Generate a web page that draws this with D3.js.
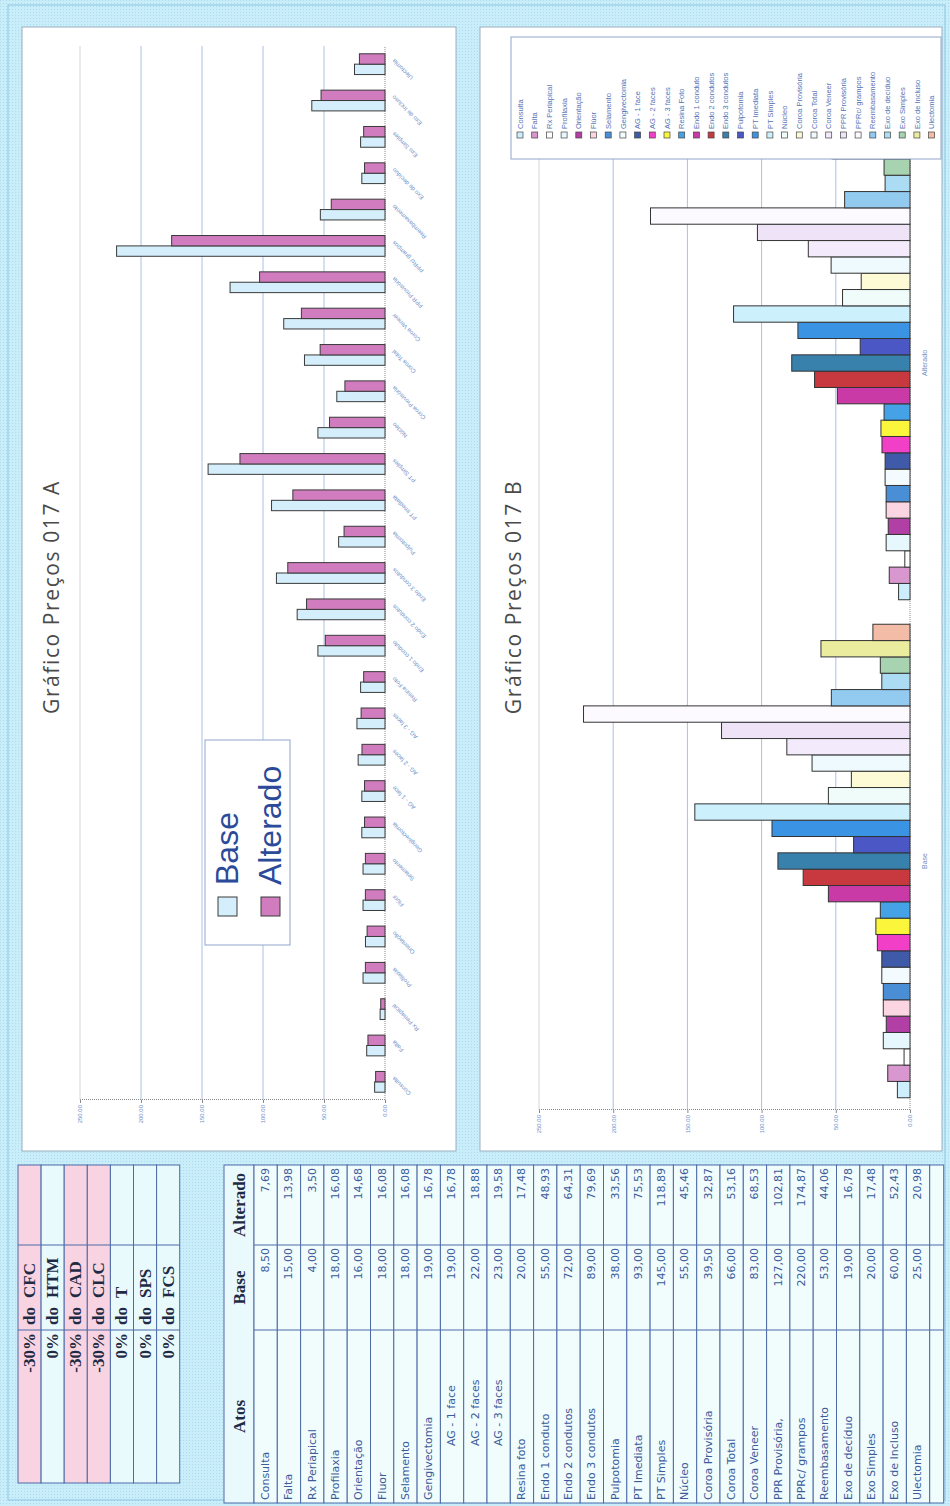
<!DOCTYPE html>
<html>
<head>
<meta charset="utf-8">
<script src="https://d3js.org/d3.v7.min.js"></script>
<style>
  body { margin: 0; background: #c9eefa; }
  svg { display: block; }
  .tbl-text { font-family: "DejaVu Sans", sans-serif; font-size: 11px; fill: #3b5b9b; }
  .tbl-head { font-family: "Liberation Serif", serif; font-weight: bold; font-size: 17px; fill: #1f2a44; }
  .axis-lbl { font-family: "Liberation Sans", sans-serif; font-size: 6px; fill: #6f8fc8; }
  .title { font-family: "Open Sans", sans-serif; font-size: 21px; fill: #4a4a4a; letter-spacing: 1.6px; }
</style>
</head>
<body>
<script>
// ---- data ----
var acts = ["Consulta", "Falta", "Rx Periapical", "Profilaxia", "Orientação", "Flúor", "Selamento",
  "Gengivectomia", "AG - 1 face", "AG - 2 faces", "AG - 3 faces", "Resina Foto", "Endo 1 conduto",
  "Endo 2 condutos", "Endo 3 condutos", "Pulpotomia", "PT Imediata", "PT Simples", "Núcleo",
  "Coroa Provisória", "Coroa Total", "Coroa Veneer", "PPR Provisória", "PPRc/ grampos",
  "Reembasamento", "Exo de decíduo", "Exo Simples", "Exo de Incluso", "Ulectomia"];
var tableActs = ["Consulta", "Falta", "Rx Periapical", "Profilaxia", "Orientação", "Fluor", "Selamento",
  "Gengivectomia", "AG - 1 face", "AG - 2 faces", "AG - 3 faces", "Resina foto", "Endo 1 conduto",
  "Endo 2 condutos", "Endo 3 condutos", "Pulpotomia", "PT Imediata", "PT Simples", "Núcleo",
  "Coroa Provisória", "Coroa Total", "Coroa Veneer", "PPR Provisória,", "PPRc/ grampos",
  "Reembasamento", "Exo de decíduo", "Exo Simples", "Exo de Incluso", "Ulectomia"];
var baseVals = [8.50, 15.00, 4.00, 18.00, 16.00, 18.00, 18.00, 19.00, 19.00, 22.00, 23.00, 20.00, 55.00,
  72.00, 89.00, 38.00, 93.00, 145.00, 55.00, 39.50, 66.00, 83.00, 127.00, 220.00, 53.00, 19.00, 20.00, 60.00, 25.00];
var altVals = [7.69, 13.98, 3.50, 16.08, 14.68, 16.08, 16.08, 16.78, 16.78, 18.88, 19.58, 17.48, 48.93,
  64.31, 79.69, 33.56, 75.53, 118.89, 45.46, 32.87, 53.16, 68.53, 102.81, 174.87, 44.06, 16.78, 17.48, 52.43, 20.98];
var actColors = ["#cdeefc", "#d898cf", "#ffffff", "#e6f7fd", "#b23fa6", "#fcd5e2", "#4a8fd6",
  "#f3fbff", "#3e5aa8", "#f23fc8", "#fbf53c", "#45a2e6", "#c93aa6", "#c8383f", "#3881ad",
  "#4a57c4", "#3a93e3", "#cdf0fd", "#f0fcfa", "#fdfbd6", "#eefafd", "#f3eafb", "#efe3f7",
  "#fdfaff", "#93caf0", "#abdcf4", "#a8d3b0", "#ecec9e", "#f2bca6"];
var seriesNames = ["Base", "Alterado"];
var seriesColors = ["#d4effb", "#d07cbf"];
var condPct = ["-30%", "0%", "-30%", "-30%", "0%", "0%", "0%"];
var condNames = ["CFC", "HTM", "CAD", "CLC", "T", "SPS", "FCS"];
var valueTicks = [0, 50, 100, 150, 200, 250];

var pageW = 950, pageH = 1506;
var fmt2 = d3.format(".2f");
function brNum(v) { return d3.format(",.2f")(v).replace(/,/g, " ").replace(".", ","); }

var svg = d3.select("body").append("svg").attr("width", pageW).attr("height", pageH);
var defs = svg.append("defs");
var pat = defs.append("pattern").attr("id", "scan").attr("width", 3).attr("height", 3)
  .attr("patternUnits", "userSpaceOnUse");
pat.append("rect").attr("width", 3).attr("height", 3).attr("fill", "#c9eefa");
pat.append("rect").attr("width", 1).attr("height", 1).attr("fill", "#aadcef");
svg.append("rect").attr("width", pageW).attr("height", pageH).attr("fill", "url(#scan)");

// the scanned sheet is landscape, turned a quarter to the left
var sheet = svg.append("g").attr("transform", "translate(0," + pageH + ") rotate(-90)");
sheet.append("rect").attr("x", 6).attr("y", 8).attr("width", 1495).attr("height", 937)
  .attr("fill", "none").attr("stroke", "#8fc3e2").attr("stroke-width", 1);

// ---------- conditions table ----------
var condRowH = 23.1, condTop = 18;
var cond = sheet.append("g");
condPct.forEach(function(p, i) {
  var y = condTop + i * condRowH;
  var hot = p !== "0%";
  cond.append("rect").attr("x", 23).attr("y", y).attr("width", 318).attr("height", condRowH)
    .attr("fill", hot ? "#f8d3e1" : "#e9fafc").attr("stroke", "#4d6aa8").attr("stroke-width", 1);
  cond.append("line").attr("x1", 176).attr("x2", 176).attr("y1", y).attr("y2", y + condRowH).attr("stroke", "#4d6aa8");
  cond.append("line").attr("x1", 261).attr("x2", 261).attr("y1", y).attr("y2", y + condRowH).attr("stroke", "#4d6aa8");
  cond.append("text").attr("class", "tbl-head").attr("x", 173).attr("y", y + 17).attr("text-anchor", "end").text(p);
  cond.append("text").attr("class", "tbl-head").attr("x", 181).attr("y", y + 17).text("do");
  cond.append("text").attr("class", "tbl-head").attr("x", 208).attr("y", y + 17).text(condNames[i]);
});

// ---------- prices table ----------
var colX = [3, 176, 261, 341];
var headTop = 224, headH = 30, rowH = 23.3;
var tbl = sheet.append("g");
tbl.append("rect").attr("x", colX[0]).attr("y", headTop).attr("width", colX[3] - colX[0]).attr("height", headH)
  .attr("fill", "#eafafc").attr("stroke", "#4d6aa8");
[["Atos", (colX[0] + colX[1]) / 2], ["Base", (colX[1] + colX[2]) / 2], ["Alterado", (colX[2] + colX[3]) / 2]]
  .forEach(function(h) {
    tbl.append("text").attr("class", "tbl-head").attr("x", h[1]).attr("y", headTop + 21)
      .attr("text-anchor", "middle").text(h[0]);
  });
var rows = tableActs.map(function(a, i) { return { name: a, base: baseVals[i], alt: altVals[i] }; });
rows.push({ name: "", base: null, alt: null });
var rowG = tbl.selectAll("g.row").data(rows).enter().append("g").attr("class", "row")
  .attr("transform", function(d, i) { return "translate(0," + (headTop + headH + i * rowH) + ")"; });
rowG.append("rect").attr("x", colX[0]).attr("width", colX[3] - colX[0])
  .attr("height", function(d) { return d.name ? rowH : 14; })
  .attr("fill", "#f1fcfd").attr("stroke", "#4d6aa8");
rowG.each(function(d) {
  var g = d3.select(this), h = d.name ? rowH : 14;
  g.append("line").attr("x1", colX[1]).attr("x2", colX[1]).attr("y2", h).attr("stroke", "#4d6aa8");
  g.append("line").attr("x1", colX[2]).attr("x2", colX[2]).attr("y2", h).attr("stroke", "#4d6aa8");
  if (!d.name) return;
  var centered = d.name.indexOf("AG") === 0;
  g.append("text").attr("class", "tbl-text").attr("x", centered ? 60 : 6).attr("y", 15).text(d.name);
  g.append("text").attr("class", "tbl-text").attr("x", colX[2] - 3).attr("y", 15).attr("text-anchor", "end").text(brNum(d.base));
  g.append("text").attr("class", "tbl-text").attr("x", colX[3] - 3).attr("y", 15).attr("text-anchor", "end").text(brNum(d.alt));
});

// ---------- shared helpers ----------
function panel(y0, h) {
  sheet.append("rect").attr("x", 355).attr("y", y0).attr("width", 1124).attr("height", h)
    .attr("fill", "#ffffff").attr("stroke", "#9aaebf").attr("stroke-width", 1);
}
function valueAxis(y, x0, x1) {
  var g = sheet.append("g");
  g.selectAll("line.grid").data(valueTicks.slice(1)).enter().append("line")
    .attr("x1", x0).attr("x2", x1)
    .attr("y1", function(d) { return y(d); }).attr("y2", function(d) { return y(d); })
    .attr("stroke", function(d) { return d === 250 ? "#d6d6d6" : "#a9c0e6"; }).attr("stroke-width", 1);
  var ax = g.append("g").attr("transform", "translate(" + x0 + ",0)")
    .call(d3.axisLeft(y).tickValues(valueTicks).tickFormat(fmt2).tickSize(3).tickPadding(2));
  ax.select(".domain").attr("stroke", "#8a8a8a").attr("stroke-dasharray", "1,1");
  ax.selectAll(".tick line").attr("stroke", "#8a8a8a");
  ax.selectAll(".tick text").attr("class", "axis-lbl").attr("fill", null).attr("font-size", null).attr("font-family", null);
  g.append("line").attr("x1", x0).attr("x2", x1).attr("y1", y(0)).attr("y2", y(0))
    .attr("stroke", "#888").attr("stroke-dasharray", "1,1");
}

// ---------- chart A ----------
panel(22, 434);
var yA = d3.scaleLinear().domain([0, 250]).range([385, 80]);
var xA = d3.scaleBand().domain(acts).range([406, 1460]);
var xAin = d3.scaleBand().domain(seriesNames).range([0, xA.bandwidth()]).paddingOuter(0.75);
valueAxis(yA, 406, 1460);
sheet.append("text").attr("class", "title").attr("x", 909).attr("y", 59).attr("text-anchor", "middle")
  .text("Gráfico Preços 017 A");
var groupsA = sheet.append("g").selectAll("g").data(acts).enter().append("g")
  .attr("transform", function(d) { return "translate(" + xA(d) + ",0)"; });
groupsA.selectAll("rect").data(function(d, i) {
  return [{ s: "Base", v: baseVals[i] }, { s: "Alterado", v: altVals[i] }];
}).enter().append("rect")
  .attr("x", function(d) { return xAin(d.s); })
  .attr("y", function(d) { return yA(d.v); })
  .attr("width", xAin.bandwidth())
  .attr("height", function(d) { return yA(0) - yA(d.v); })
  .attr("fill", function(d) { return seriesColors[seriesNames.indexOf(d.s)]; })
  .attr("stroke", "#3a3a3a").attr("stroke-width", 1);
var catA = sheet.append("g").attr("transform", "translate(0,385)")
  .call(d3.axisBottom(xA).tickSize(0).tickPadding(6));
catA.select(".domain").remove();
catA.selectAll(".tick text").attr("class", "axis-lbl").attr("fill", null).attr("font-size", null).attr("font-family", null)
  .attr("text-anchor", "end").attr("dy", "0.3em")
  .attr("transform", "translate(0,4) rotate(-45)");

// legend A
var legA = sheet.append("g");
legA.append("rect").attr("x", 561).attr("y", 205).attr("width", 205).attr("height", 85)
  .attr("fill", "#fff").attr("stroke", "#8fa7c9");
seriesNames.forEach(function(s, i) {
  var cy = 227 + i * 43;
  legA.append("rect").attr("x", 590).attr("y", cy - 9).attr("width", 19).attr("height", 19)
    .attr("fill", seriesColors[i]).attr("stroke", "#3a3a3a");
  legA.append("text").attr("x", 621).attr("y", cy + 11)
    .attr("font-family", "Liberation Sans, Arial, sans-serif").attr("font-size", 32).attr("fill", "#2c4a9a").text(s);
});

// ---------- chart B ----------
panel(480, 462);
var yB = d3.scaleLinear().domain([0, 250]).range([910, 539]);
var xB = d3.scaleBand().domain(seriesNames).range([396, 1392]);
var xBin = d3.scaleBand().domain(acts).range([0, xB.bandwidth()]).paddingOuter(0.75);
valueAxis(yB, 396, 1392);
sheet.append("text").attr("class", "title").attr("x", 909).attr("y", 521).attr("text-anchor", "middle")
  .text("Gráfico Preços 017 B");
var groupsB = sheet.append("g").selectAll("g").data(seriesNames).enter().append("g")
  .attr("transform", function(d) { return "translate(" + xB(d) + ",0)"; });
groupsB.selectAll("rect").data(function(s) {
  var vals = s === "Base" ? baseVals : altVals;
  return acts.map(function(a, i) { return { a: a, v: vals[i], c: actColors[i] }; });
}).enter().append("rect")
  .attr("x", function(d) { return xBin(d.a); })
  .attr("y", function(d) { return yB(d.v); })
  .attr("width", xBin.bandwidth())
  .attr("height", function(d) { return yB(0) - yB(d.v); })
  .attr("fill", function(d) { return d.c; })
  .attr("stroke", "#333").attr("stroke-width", 1);
var catB = sheet.append("g").attr("transform", "translate(0,910)")
  .call(d3.axisBottom(xB).tickSize(0).tickPadding(12));
catB.select(".domain").remove();
catB.selectAll(".tick text").attr("class", "axis-lbl").attr("fill", null).attr("font-size", null).attr("font-family", null)
  .style("font-size", "7px");

// legend B (sits over the last bars, as in the scan)
var legB = sheet.append("g");
legB.append("rect").attr("x", 1347).attr("y", 511).attr("width", 122).attr("height", 430)
  .attr("fill", "#fff").attr("stroke", "#8fa7c9");
acts.forEach(function(a, i) {
  var cy = 520 + i * 14.7;
  legB.append("rect").attr("x", 1368).attr("y", cy - 3).attr("width", 6).attr("height", 6)
    .attr("fill", actColors[i]).attr("stroke", "#444").attr("stroke-width", 0.7);
  legB.append("text").attr("x", 1377).attr("y", cy + 2.6)
    .attr("font-family", "Liberation Sans, Arial, sans-serif").attr("font-size", 7.5).attr("fill", "#5573b5").text(a);
});
</script>
</body>
</html>
